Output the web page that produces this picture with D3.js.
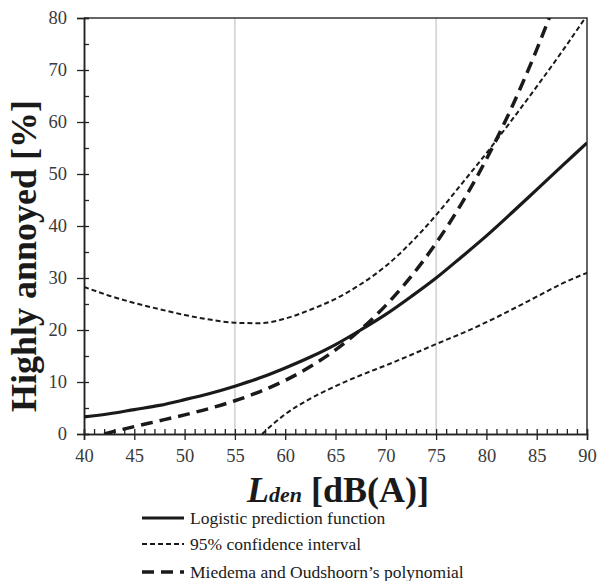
<!DOCTYPE html>
<html>
<head>
<meta charset="utf-8">
<script src="https://cdn.jsdelivr.net/npm/d3@7"></script>
<style>
  body { margin: 0; background: #fff; }
  svg text { font-family: "Liberation Serif", "Times New Roman", serif; }
</style>
</head>
<body>
<script>
// values
var levels = [40, 42.5, 45, 47.5, 50, 52.5, 55, 57.5, 60, 62.5, 65, 67.5, 70, 72.5, 75, 77.5, 80, 82.5, 85, 87.5, 90];
var logistic = [3.3, 3.9, 4.7, 5.5, 6.6, 7.8, 9.2, 10.8, 12.7, 14.8, 17.2, 20.0, 23.0, 26.4, 30.0, 34.0, 38.1, 42.5, 47.0, 51.5, 56.0];
var ciUpper = [28.3, 26.6, 25.2, 24.0, 22.9, 22.0, 21.4, 21.3, 22.2, 23.9, 26.0, 28.8, 32.3, 36.8, 42.1, 48.0, 54.0, 60.3, 66.8, 73.5, 80.5];
var ciLowLevels = [57.7, 60, 62.5, 65, 67.5, 70, 72.5, 75, 77.5, 80, 82.5, 85, 87.5, 90];
var ciLower = [0, 3.8, 6.8, 9.2, 11.3, 13.2, 15.2, 17.3, 19.3, 21.5, 23.9, 26.4, 28.9, 31.0];
var miedLevels = [42, 42.5, 45, 47.5, 50, 52.5, 55, 57.5, 60, 62.5, 65, 67.5, 70, 72.5, 75, 77.5, 80, 82.5, 85, 86, 87];
var miedema = [0, 0.25, 1.43, 2.54, 3.68, 4.93, 6.39, 8.16, 10.31, 12.96, 16.18, 20.07, 24.73, 30.25, 36.71, 44.22, 52.86, 62.73, 73.92, 78.78, 83.9];
var xTicks = [40, 45, 50, 55, 60, 65, 70, 75, 80, 85, 90];
var yTicks = [0, 10, 20, 30, 40, 50, 60, 70, 80];
var gridLevels = [55, 75];
var legendLabels = ["Logistic prediction function", "95% confidence interval", "Miedema and Oudshoorn\u2019s polynomial"];

var width = 600, height = 581;
var mLeft = 84, mRight = 587, mTop = 18, mBottom = 434;
var serif = "Liberation Serif, Times New Roman, serif";

var svg = d3.select("body").append("svg")
    .attr("width", width).attr("height", height);

var x = d3.scaleLinear().domain([40, 90]).range([mLeft, mRight]);
var y = d3.scaleLinear().domain([0, 80]).range([mBottom, mTop]);

svg.append("defs").append("clipPath").attr("id", "plot")
  .append("rect").attr("x", mLeft).attr("y", mTop)
  .attr("width", mRight - mLeft).attr("height", mBottom - mTop);

// grey gridlines
svg.selectAll("line.grid").data(gridLevels).enter().append("line")
    .attr("class", "grid")
    .attr("x1", function(d) { return x(d); }).attr("x2", function(d) { return x(d); })
    .attr("y1", mTop).attr("y2", mBottom)
    .attr("stroke", "#c4c4c4").attr("stroke-width", 1.2);

// frame top and right
svg.append("path")
    .attr("d", "M" + mLeft + "," + mTop + "H" + mRight + "V" + mBottom)
    .attr("fill", "none").attr("stroke", "#333").attr("stroke-width", 1.5);

// axes
var minorX = d3.range(40, 91, 1);
var minorY = d3.range(0, 81, 5);

svg.append("g").attr("transform", "translate(0," + mBottom + ")")
    .call(d3.axisTop(x).tickValues(minorX).tickSize(5).tickFormat(""))
    .call(styleAxis);
svg.append("g").attr("transform", "translate(0," + mBottom + ")")
    .call(d3.axisBottom(x).tickValues(xTicks).tickSize(6).tickPadding(9).tickFormat(d3.format("d")))
    .call(styleAxis);
svg.append("g").attr("transform", "translate(" + mLeft + ",0)")
    .call(d3.axisRight(y).tickValues(minorY).tickSize(5).tickFormat(""))
    .call(styleAxis);
svg.append("g").attr("transform", "translate(" + mLeft + ",0)")
    .call(d3.axisLeft(y).tickValues(yTicks).tickSize(7).tickPadding(10).tickFormat(d3.format("d")))
    .call(styleAxis);

function styleAxis(g) {
    g.attr("font-family", serif);
    g.select(".domain").attr("stroke", "#222").attr("stroke-width", 1.5);
    g.selectAll(".tick line").attr("stroke", "#222").attr("stroke-width", 1.3);
    g.selectAll(".tick text")
        .style("font-family", serif)
        .attr("font-size", 18.5).attr("fill", "#3a3a3a");
}

// curves
var line = d3.line().curve(d3.curveMonotoneX)
    .x(function(d) { return x(d[0]); })
    .y(function(d) { return y(d[1]); });

var curves = svg.append("g").attr("clip-path", "url(#plot)");

function pairs(xs, ys) { return xs.map(function(v, i) { return [v, ys[i]]; }); }

curves.append("path").datum(pairs(levels, ciUpper))
    .attr("d", line).attr("fill", "none")
    .attr("stroke", "#1a1a1a").attr("stroke-width", 2).attr("stroke-dasharray", "5,3");
curves.append("path").datum(pairs(ciLowLevels, ciLower))
    .attr("d", line).attr("fill", "none")
    .attr("stroke", "#1a1a1a").attr("stroke-width", 2).attr("stroke-dasharray", "5,3");
curves.append("path").datum(pairs(miedLevels, miedema))
    .attr("d", line).attr("fill", "none")
    .attr("stroke", "#1a1a1a").attr("stroke-width", 3.5).attr("stroke-dasharray", "12,7");
curves.append("path").datum(pairs(levels, logistic))
    .attr("d", line).attr("fill", "none")
    .attr("stroke", "#1a1a1a").attr("stroke-width", 3.2);

// axis titles
svg.append("text")
    .attr("transform", "translate(36,256) rotate(-90)")
    .attr("text-anchor", "middle")
    .attr("font-weight", "bold").attr("font-size", 36).attr("fill", "#1a1a1a")
    .text("Highly annoyed [%]");

var xt = svg.append("text")
    .attr("x", 338).attr("y", 502)
    .attr("text-anchor", "middle")
    .attr("font-weight", "bold").attr("font-size", 36).attr("fill", "#1a1a1a");
xt.append("tspan").attr("font-style", "italic").text("L");
xt.append("tspan").attr("font-style", "italic").attr("font-size", 22).text("den");
xt.append("tspan").text(" [dB(A)]");

// legend
var legendY = [518, 544, 572];
var legendDash = [null, "5,3", "12,7"];
var legendWidth = [3.2, 2, 3.5];
var lg = svg.selectAll("g.legend").data(legendLabels).enter().append("g")
    .attr("class", "legend")
    .attr("transform", function(d, i) { return "translate(0," + legendY[i] + ")"; });
lg.append("line")
    .attr("x1", 142).attr("x2", 184).attr("y1", 0).attr("y2", 0)
    .attr("stroke", "#1a1a1a")
    .attr("stroke-width", function(d, i) { return legendWidth[i]; })
    .attr("stroke-dasharray", function(d, i) { return legendDash[i]; });
lg.append("text")
    .attr("x", 190).attr("y", 6)
    .attr("font-size", 17.5).attr("fill", "#1a1a1a")
    .text(function(d) { return d; });
</script>
</body>
</html>
